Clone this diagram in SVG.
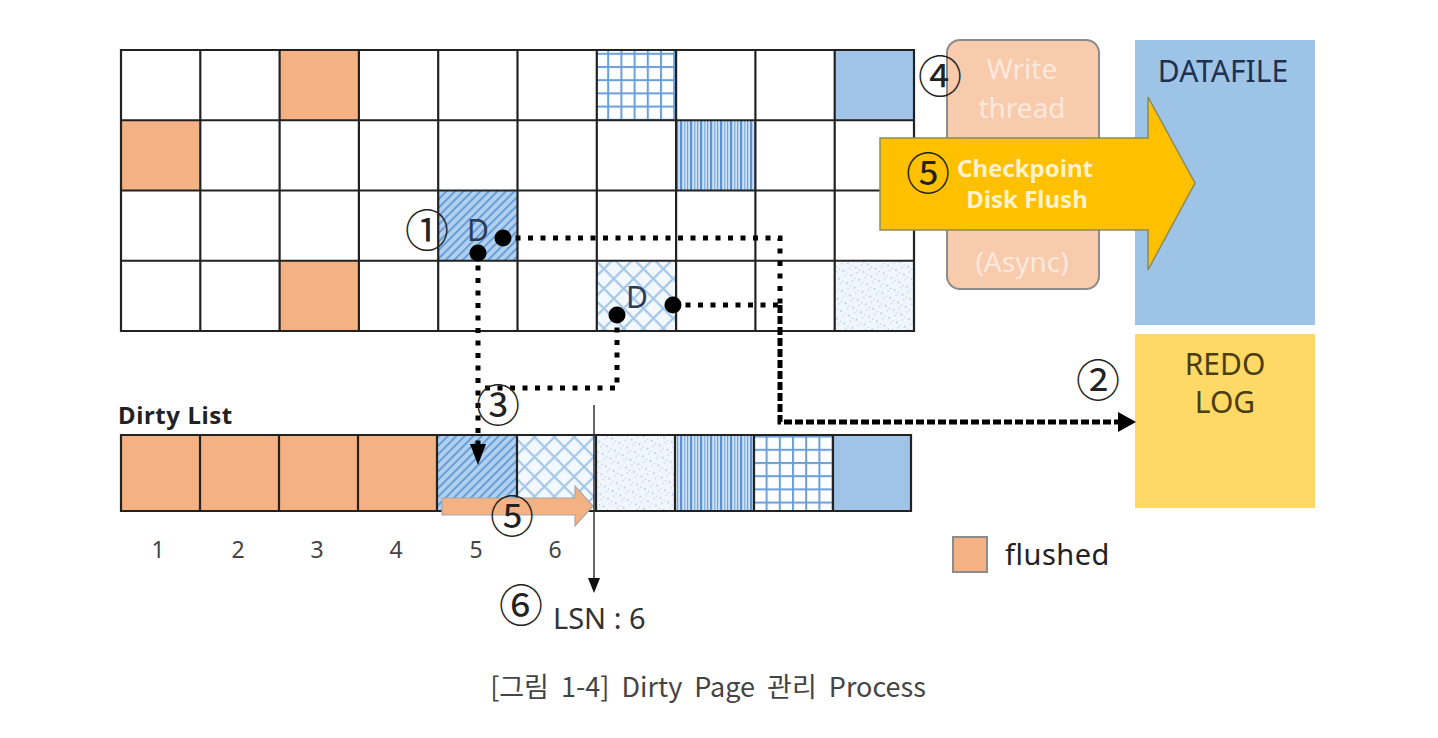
<svg xmlns="http://www.w3.org/2000/svg" width="1438" height="738" viewBox="0 0 1438 738">
<style>
.lbl{font-family:"Noto Sans","Liberation Sans",sans-serif;}
.circ{font-family:"Noto Sans CJK KR","DejaVu Sans",sans-serif;font-size:44px;fill:#222;text-anchor:middle;}
.cellline{stroke:#222;stroke-width:2.2;fill:none;}
.dot{stroke:#000;stroke-width:5;fill:none;stroke-dasharray:5 7.5;}
.orange{fill:#f4b183;}
</style>
<defs>
<pattern id="pGrid" width="13.2" height="13.2" patternUnits="userSpaceOnUse">
<rect width="13.2" height="13.2" fill="#fdfeff"/>
<rect x="0" y="0" width="13.2" height="2" fill="#6b9fd8"/>
<rect x="0" y="0" width="2" height="13.2" fill="#6b9fd8"/>
</pattern>
<pattern id="pV" width="10" height="10" patternUnits="userSpaceOnUse">
<rect width="10" height="10" fill="#cfe1f4"/>
<rect x="0" width="2.2" height="10" fill="#5b93d3"/>
<rect x="4" width="1.5" height="10" fill="#8fb8e3"/>
<rect x="7" width="1.2" height="10" fill="#6fa2da"/>
</pattern>
<pattern id="pDiag" width="6" height="6" patternUnits="userSpaceOnUse" patternTransform="rotate(-45)">
<rect width="6" height="6" fill="#b1d0ef"/>
<rect x="0" y="0" width="6" height="2" fill="#6a9fd6"/>
</pattern>
<pattern id="pCross" width="14" height="14" patternUnits="userSpaceOnUse" patternTransform="rotate(45)">
<rect width="14" height="14" fill="#f2f8fe"/>
<rect x="0" y="0" width="14" height="2.2" fill="#a6c7e8"/>
<rect x="0" y="0" width="2.2" height="14" fill="#a6c7e8"/>
</pattern>
<pattern id="pSpeck" width="9" height="9" patternUnits="userSpaceOnUse" patternTransform="rotate(30)">
<rect width="9" height="9" fill="#f1f6fc"/>
<rect x="1" y="1" width="1.6" height="1.6" fill="#a7c5e6"/>
<rect x="5" y="5" width="1.4" height="1.4" fill="#bcd4ee"/>
<rect x="6" y="2" width="1" height="1" fill="#9dbde2"/>
</pattern>
</defs>
<rect width="1438" height="738" fill="#fff"/>

<g id="buffer-grid">
<rect x="279.6" y="50" width="79.3" height="70.25" class="orange"/>
<rect x="596.8" y="50" width="79.3" height="70.25" fill="url(#pGrid)"/>
<rect x="834.7" y="50" width="79.3" height="70.25" fill="#a0c4e8"/>
<rect x="121" y="120.25" width="79.3" height="70.25" class="orange"/>
<rect x="676.1" y="120.25" width="79.3" height="70.25" fill="url(#pV)"/>
<rect x="438.2" y="190.5" width="79.3" height="70.25" fill="url(#pDiag)"/>
<rect x="279.6" y="260.75" width="79.3" height="70.25" class="orange"/>
<rect x="596.8" y="260.75" width="79.3" height="70.25" fill="url(#pCross)"/>
<rect x="834.7" y="260.75" width="79.3" height="70.25" fill="url(#pSpeck)"/>
<path class="cellline" d="M121,50H914V331H121Z M121,120.25H914 M121,190.5H914 M121,260.75H914 M200.3,50V331 M279.6,50V331 M358.9,50V331 M438.2,50V331 M517.5,50V331 M596.8,50V331 M676.1,50V331 M755.4,50V331 M834.7,50V331"/>
<text x="478" y="241" class="lbl" font-size="30" fill="#2b3a55" text-anchor="middle">D</text>
<text x="637" y="308" class="lbl" font-size="30" fill="#2b3a55" text-anchor="middle">D</text>
</g>

<g id="dirty-list">
<text x="118" y="424" class="lbl" font-size="24" font-weight="bold" letter-spacing="0.6" fill="#222">Dirty List</text>
<rect x="121" y="435" width="79" height="76" class="orange"/>
<rect x="200" y="435" width="79" height="76" class="orange"/>
<rect x="279" y="435" width="79" height="76" class="orange"/>
<rect x="358" y="435" width="79" height="76" class="orange"/>
<rect x="437" y="435" width="80" height="76" fill="url(#pDiag)"/>
<rect x="517" y="435" width="79" height="76" fill="url(#pCross)"/>
<rect x="596" y="435" width="79" height="76" fill="url(#pSpeck)"/>
<rect x="675" y="435" width="79" height="76" fill="url(#pV)"/>
<rect x="754" y="435" width="79" height="76" fill="url(#pGrid)"/>
<rect x="833" y="435" width="78" height="76" fill="#a0c4e8"/>
<path class="cellline" d="M121,435H911V511H121Z M200,435V511 M279,435V511 M358,435V511 M437,435V511 M517,435V511 M596,435V511 M675,435V511 M754,435V511 M833,435V511"/>
<g class="lbl" font-size="23" fill="#444" text-anchor="middle">
<text x="158" y="558">1</text>
<text x="238" y="558">2</text>
<text x="317" y="558">3</text>
<text x="396" y="558">4</text>
<text x="476" y="558">5</text>
<text x="555" y="558">6</text>
</g>
</g>

<g id="write-thread">
<rect x="947" y="40" width="152" height="249" rx="13" fill="#f8cbad" stroke="#8c8c8c" stroke-width="2"/>
<g class="lbl" font-size="28" fill="#fce8dc" text-anchor="middle">
<text x="1022" y="79">Write</text>
<text x="1022" y="118">thread</text>
<text x="1022" y="272">(Async)</text>
</g>
</g>

<g id="datafile">
<rect x="1135" y="40" width="180" height="285" fill="#9dc3e6"/>
<text x="1223" y="82" class="lbl" font-size="30" fill="#1f3050" text-anchor="middle">DATAFILE</text>
</g>

<g id="redo-log">
<rect x="1135" y="334" width="180" height="174" fill="#ffd966"/>
<text x="1225" y="375" class="lbl" font-size="30" fill="#4a3d10" text-anchor="middle">REDO</text>
<text x="1225" y="413" class="lbl" font-size="30" fill="#4a3d10" text-anchor="middle">LOG</text>
</g>

<g id="checkpoint-arrow">
<path d="M880,138 H1148 V97 L1195,183 L1148,270 V230 H880 Z" fill="#ffc000" stroke="#8a8a5a" stroke-width="1.5"/>
<text x="1025" y="177" class="lbl" font-size="24" font-weight="bold" fill="#fff2cc" text-anchor="middle">Checkpoint</text>
<text x="1027" y="208" class="lbl" font-size="24" font-weight="bold" fill="#fff2cc" text-anchor="middle">Disk Flush</text>
</g>

<g id="flush-arrow">
<path d="M442,498 H575 V486 L593,506 L575,526 V515 H442 Z" fill="#f4b183" stroke="#a8a8a8" stroke-width="1.2"/>
</g>

<g id="legend">
<rect x="953" y="537" width="34" height="35" fill="#f4b183" stroke="#8c8c8c" stroke-width="2"/>
<text x="1005" y="565" class="lbl" font-size="29" letter-spacing="0.5" fill="#222">flushed</text>
</g>

<g id="connectors">
<path class="dot" d="M503,238 H780 V305"/>
<path class="dot" d="M673,305 H780"/>
<path d="M780,305 V422 H1122" fill="none" stroke="#000" stroke-width="5" stroke-dasharray="8 3"/>
<path d="M1118,412 L1136,422 L1118,432 Z" fill="#000"/>
<path class="dot" d="M478,253 V445"/>
<path d="M470,444 L486,444 L478,465 Z" fill="#000"/>
<path class="dot" d="M617,315 V388 H480"/>
<line x1="594" y1="405" x2="594" y2="580" stroke="#333" stroke-width="1.5"/>
<path d="M588,578 L600,578 L594,593 Z" fill="#111"/>
<circle cx="503" cy="238" r="8.5" fill="#000"/>
<circle cx="478" cy="253" r="8.5" fill="#000"/>
<circle cx="673" cy="305" r="8.5" fill="#000"/>
<circle cx="617" cy="315" r="8.5" fill="#000"/>
</g>

<g id="step-labels">
<text x="427" y="247" class="circ">①</text>
<text x="1098" y="397" class="circ">②</text>
<text x="498" y="422" class="circ">③</text>
<text x="940" y="93" class="circ">④</text>
<text x="928" y="190" class="circ">⑤</text>
<text x="512" y="533" class="circ">⑤</text>
<text x="521" y="622" class="circ">⑥</text>
<text x="553" y="629" class="lbl" font-size="29" fill="#333">LSN : 6</text>
</g>

<text x="708" y="697" font-family="Noto Sans CJK KR, sans-serif" font-size="27" word-spacing="6" fill="#444" text-anchor="middle">[그림 1-4] Dirty Page 관리 Process</text>
</svg>
